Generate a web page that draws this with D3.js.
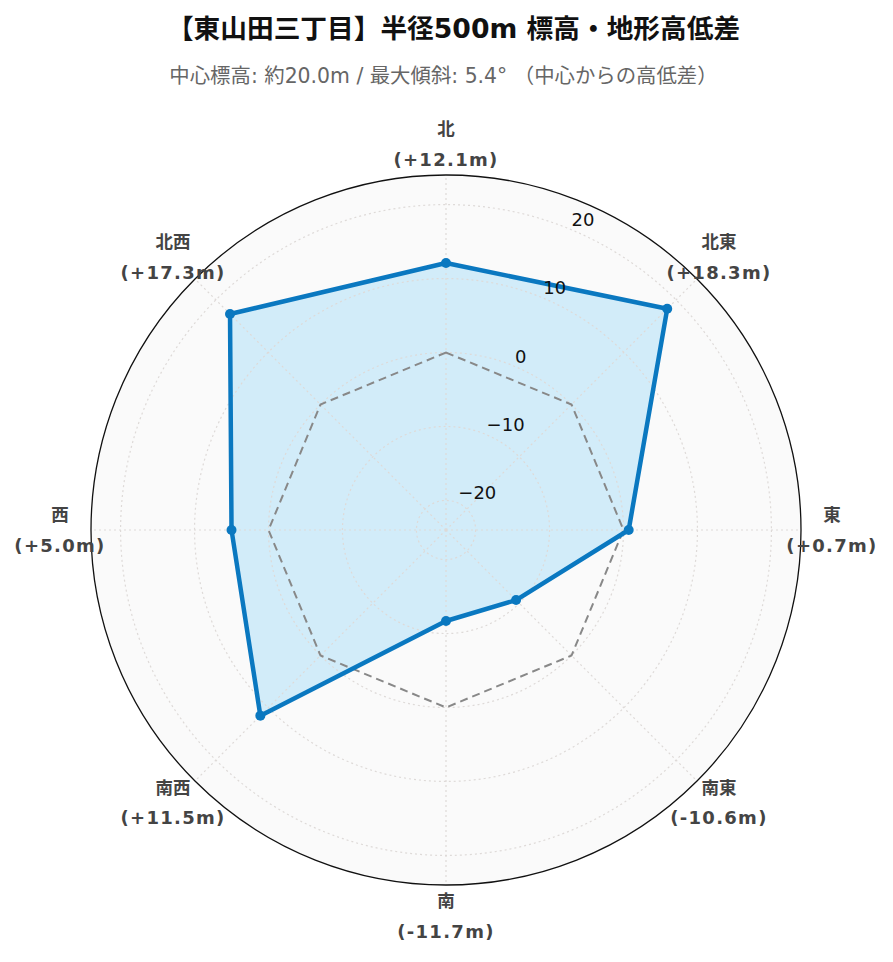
<!DOCTYPE html>
<html>
<head>
<meta charset="utf-8">
<script src="https://cdn.jsdelivr.net/npm/d3@7"></script>
<style>
  html, body { margin: 0; padding: 0; background: #ffffff; }
  svg { display: block; }
</style>
</head>
<body>
<svg id="chart" width="893" height="962"></svg>
<script>
// ---- data ----
const titleText = "【東山田三丁目】半径500m 標高・地形高低差";
const subtitleText = "中心標高: 約20.0m / 最大傾斜: 5.4° （中心からの高低差）";
const directions = ["北", "北東", "東", "南東", "南", "南西", "西", "北西"];
const elevationDiffs = [12.1, 18.3, 0.7, -10.6, -11.7, 11.5, 5.0, 17.3];
const referenceValues = [0, 0, 0, 0, 0, 0, 0, 0];
const radialTicks = [-20, -10, 0, 10, 20];
const radialDomain = [-24, 24];

// ---- layout ----
const svg = d3.select("#chart");
const W = 893, H = 962;
const cx = 446, cy = 530, R = 355;
const fontFamily = "'DejaVu Sans', 'Noto Sans CJK JP', sans-serif";

const r = d3.scaleLinear().domain(radialDomain).range([0, R]);
const angle = d3.scalePoint().domain(directions).range([0, 2 * Math.PI * (1 - 1 / directions.length)]);
const pt = (dir, v) => {
  const a = angle(dir);
  return [cx + r(v) * Math.sin(a), cy - r(v) * Math.cos(a)];
};

// Title
svg.append("text")
  .attr("x", 453.5).attr("y", 28)
  .attr("text-anchor", "middle").attr("dominant-baseline", "central")
  .attr("font-family", fontFamily).attr("font-weight", "bold")
  .attr("font-size", 26.7).attr("fill", "#111")
  .text(titleText);
svg.append("text")
  .attr("x", 443.5).attr("y", 76)
  .attr("text-anchor", "middle").attr("dominant-baseline", "central")
  .attr("font-family", fontFamily)
  .attr("font-size", 20.4).attr("fill", "#666")
  .text(subtitleText);

const g = svg.append("g");

// background disk
g.append("circle").attr("cx", cx).attr("cy", cy).attr("r", R).attr("fill", "#fafafa");

// data fill
const lineGen = d3.line();
const dataPts = directions.map((d, i) => pt(d, elevationDiffs[i]));
g.append("path")
  .attr("d", lineGen(dataPts) + "Z")
  .attr("fill", "#d2ecf9")
  .attr("stroke", "none");

// grid circles
g.selectAll("circle.grid").data(radialTicks).join("circle")
  .attr("class", "grid")
  .attr("cx", cx).attr("cy", cy).attr("r", d => r(d))
  .attr("fill", "none").attr("stroke", "#dedad8").attr("stroke-width", 1.2)
  .attr("stroke-dasharray", "2,3");

// angular grid lines
g.selectAll("line.spoke").data(directions).join("line")
  .attr("class", "spoke")
  .attr("x1", cx).attr("y1", cy)
  .attr("x2", d => pt(d, radialDomain[1])[0])
  .attr("y2", d => pt(d, radialDomain[1])[1])
  .attr("stroke", "#dedad8").attr("stroke-width", 1.2)
  .attr("stroke-dasharray", "2,3");

// outer circle
g.append("circle").attr("cx", cx).attr("cy", cy).attr("r", R)
  .attr("fill", "none").attr("stroke", "#111").attr("stroke-width", 1.3);

// reference dashed (0 m)
const refPts = directions.map((d, i) => pt(d, referenceValues[i]));
g.append("path")
  .attr("d", lineGen(refPts) + "Z")
  .attr("fill", "none").attr("stroke", "#888").attr("stroke-width", 2)
  .attr("stroke-dasharray", "8,5");

// data line
g.append("path")
  .attr("d", lineGen(dataPts) + "Z")
  .attr("fill", "none").attr("stroke", "#0a78c0").attr("stroke-width", 4.5)
  .attr("stroke-linejoin", "round");
g.selectAll("circle.pt").data(dataPts).join("circle")
  .attr("class", "pt")
  .attr("cx", d => d[0]).attr("cy", d => d[1]).attr("r", 5)
  .attr("fill", "#0a78c0");

// radial tick labels (axis at 22.5deg)
const tickAngle = Math.PI / 8;
g.selectAll("text.tick").data(radialTicks).join("text")
  .attr("class", "tick")
  .attr("x", d => cx + r(d) * Math.sin(tickAngle) + 1)
  .attr("y", d => cy - r(d) * Math.cos(tickAngle) - 10)
  .attr("text-anchor", "start").attr("dominant-baseline", "central")
  .attr("font-family", fontFamily).attr("font-size", 18).attr("fill", "#111")
  .text(d => d < 0 ? "\u2212" + Math.abs(d) : String(d));

// category labels
const fmt = v => "(" + (v >= 0 ? "+" : "-") + Math.abs(v).toFixed(1) + "m)";
const labR = R + 31;
const labs = g.selectAll("g.lab").data(directions).join("g")
  .attr("class", "lab")
  .attr("transform", d => {
    const a = angle(d);
    return `translate(${cx + labR * Math.sin(a)},${cy - labR * Math.cos(a)})`;
  });
labs.append("text")
  .attr("y", -15).attr("text-anchor", "middle").attr("dominant-baseline", "central")
  .attr("font-family", fontFamily).attr("font-weight", "bold")
  .attr("font-size", 17.5).attr("fill", "#444")
  .text(d => d);
labs.append("text")
  .attr("y", 15).attr("text-anchor", "middle").attr("dominant-baseline", "central")
  .attr("font-family", fontFamily).attr("font-weight", "bold")
  .attr("font-size", 18).attr("fill", "#444").attr("letter-spacing", 1.3)
  .text((d, i) => fmt(elevationDiffs[i]));
</script>
</body>
</html>
